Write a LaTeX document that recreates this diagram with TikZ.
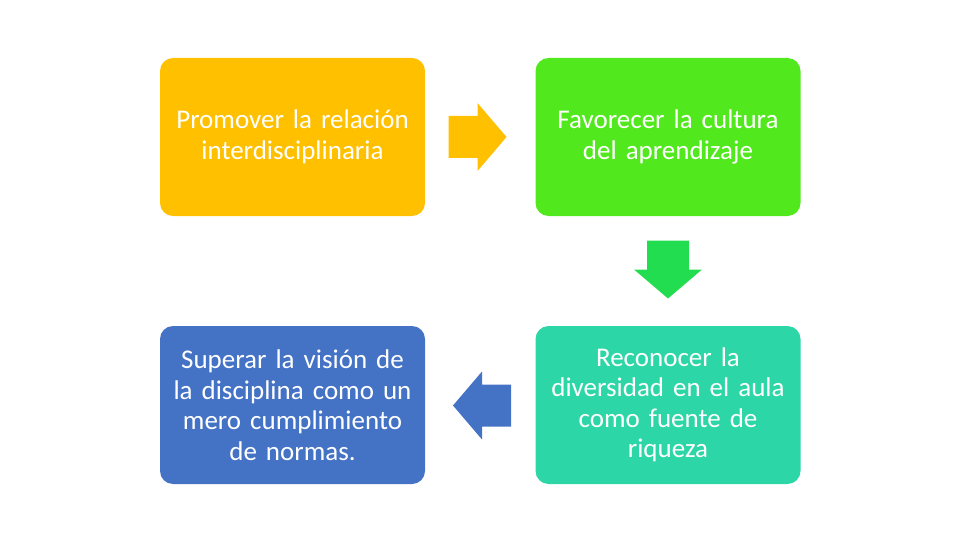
\documentclass[tikz,border=0pt]{standalone}
\usepackage{fontspec}
\setmainfont{Carlito}
\usepackage{tikz}
\usetikzlibrary{positioning}
\definecolor{boxyellow}{HTML}{FFC000}
\definecolor{boxgreen}{HTML}{52E81E}
\definecolor{arrowgreen}{HTML}{22DD4F}
\definecolor{boxblue}{HTML}{4472C4}
\definecolor{boxteal}{HTML}{2DD6A6}
\newcommand{\blockarrow}[3]{\begin{scope}[shift={(#1)},rotate=#2]
  \fill[#3] (-29,-21)--(0,-21)--(0,-34)--(29,0)--(0,34)--(0,21)--(-29,21)--cycle;\end{scope}}

\begin{document}
\begin{tikzpicture}[x=1pt,y=-1pt,
  idea/.style={rounded corners=13pt,minimum width=265pt,minimum height=158pt,
    text width=262pt,align=center,text=white,inner sep=0pt,
    font=\fontsize{27}{30.5}\selectfont}]
\useasboundingbox (0,0) rectangle (960,540);
\node[idea,fill=boxyellow] (rel) at (292.5,137) {Promover la relación\\interdisciplinaria};
\node[idea,fill=boxgreen] (cult) at (668,137) {Favorecer la cultura\\del aprendizaje};
\node[idea,fill=boxteal] (div) at (668,405) {Reconocer la\\diversidad en el aula\\como fuente de\\riqueza};
\node[idea,fill=boxblue] (vis) at (292.5,405) {Superar la visión de\\la disciplina como un\\mero cumplimiento\\de normas.};
\blockarrow{477.5,137}{0}{boxyellow}
\blockarrow{668,269.5}{-90}{arrowgreen}
\blockarrow{482,405.5}{180}{boxblue}
\end{tikzpicture}
\end{document}
